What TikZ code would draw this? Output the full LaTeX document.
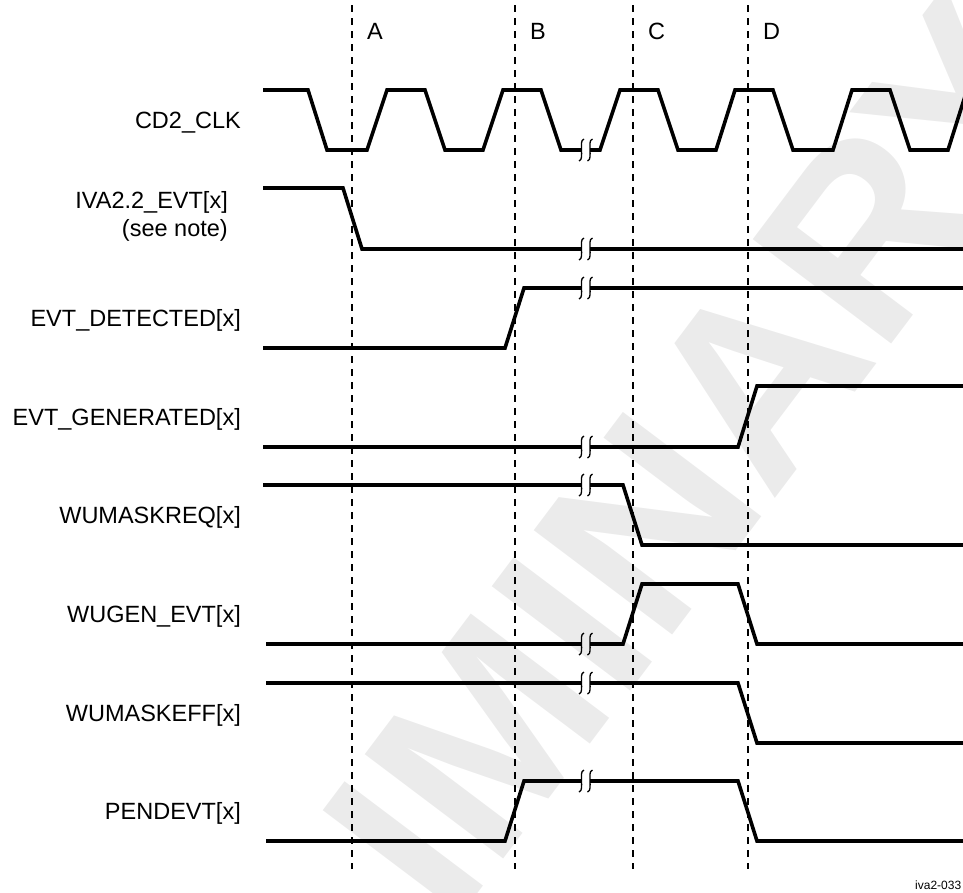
\documentclass[tikz,border=0pt]{standalone}
\usepackage{fontspec}
\setmainfont{Liberation Sans}
\definecolor{wmgray}{RGB}{235,235,235}
\newcommand{\brkmk}[1]{%
  \draw[brkline] (584,#1-11) .. controls (580.5,#1-10) and (581.5,#1-4) .. (581.5,#1) .. controls (581.5,#1+4) and (582.5,#1+10) .. (579,#1+11);
  \draw[brkline] (592.5,#1-11) .. controls (589,#1-10) and (590,#1-4) .. (590,#1) .. controls (590,#1+4) and (591,#1+10) .. (587.5,#1+11);
}
\begin{document}
\begin{tikzpicture}[x=1pt,y=-1pt,
  sig/.style={line width=3.6pt, line join=miter},
  gridline/.style={line width=1.2pt, dash pattern=on 7pt off 6pt},
  brkline/.style={line width=1.3pt},
  lbl/.style={font=\fontsize{23.5}{27}\selectfont, inner sep=0pt, anchor=base east},
  mlbl/.style={font=\fontsize{23.5}{27}\selectfont, inner sep=0pt, anchor=base west}]
\useasboundingbox (0,0) rectangle (963,892);
% watermark
\node[rotate=53, text=wmgray, font=\fontsize{252}{252}\selectfont\bfseries, inner sep=0pt] (wm) at (497.6,723.2) {PRELIMINARY};
% dashed marker lines
\foreach \nm/\xx in {A/352,B/515,C/633,D/748}{
  \coordinate (\nm top) at (\xx,5);
  \coordinate (\nm bot) at (\xx,869);
  \draw[gridline] (\nm top) -- (\nm bot);
}
\node[mlbl] (la) at (367,39) {A};
\node[mlbl] (lb) at (530,39) {B};
\node[mlbl] (lc) at (648,39) {C};
\node[mlbl] (ld) at (763,39) {D};
% labels
\node[lbl] (lclk) at (241,128.4) {CD2\_CLK};
\node[lbl] (liva) at (228,208.4) {IVA2.2\_EVT[x]};
\node[lbl] (lnote) at (228,236) {(see note)};
\node[lbl] (ldet) at (241,326.4) {EVT\_DETECTED[x]};
\node[lbl] (lgen) at (241,425) {EVT\_GENERATED[x]};
\node[lbl] (lreq) at (241,523.4) {WUMASKREQ[x]};
\node[lbl] (lwug) at (241,622.4) {WUGEN\_EVT[x]};
\node[lbl] (leff) at (241,721.4) {WUMASKEFF[x]};
\node[lbl] (lpen) at (241,819.8) {PENDEVT[x]};
% signals
\draw[sig] (263,90) -- (308,90) -- (327,150) -- (367,150) -- (387,90) -- (425,90) -- (445,150) -- (483,150) -- (503,90) -- (541,90) -- (561,150) -- (581.5,150);
\draw[sig] (590,150) -- (600,150) -- (620,90) -- (658,90) -- (678,150) -- (716,150) -- (735,90) -- (773,90) -- (793,150) -- (833,150) -- (852,90) -- (890,90) -- (910,150) -- (948,150) -- (967,90);
\brkmk{150}
\draw[sig] (263,188) -- (343,188) -- (362,249) -- (581.5,249);
\draw[sig] (590,249) -- (966,249);
\brkmk{249}
\draw[sig] (263,348) -- (505,348) -- (524,288) -- (581.5,288);
\draw[sig] (590,288) -- (966,288);
\brkmk{288}
\draw[sig] (263,447) -- (581.5,447);
\draw[sig] (590,447) -- (738,447) -- (757,386) -- (966,386);
\brkmk{447}
\draw[sig] (263,485) -- (581.5,485);
\draw[sig] (590,485) -- (623,485) -- (642,545) -- (966,545);
\brkmk{485}
\draw[sig] (266,644) -- (581.5,644);
\draw[sig] (590,644) -- (623,644) -- (642,584) -- (738,584) -- (757,644) -- (966,644);
\brkmk{644}
\draw[sig] (266,683) -- (581.5,683);
\draw[sig] (590,683) -- (738,683) -- (757,743) -- (966,743);
\brkmk{683}
\draw[sig] (266,841) -- (505,841) -- (524,781) -- (581.5,781);
\draw[sig] (590,781) -- (738,781) -- (757,841) -- (966,841);
\brkmk{781}
\node[anchor=base west, inner sep=0pt, font=\fontsize{12}{13}\selectfont] (fig) at (915,889) {iva2-033};
\end{tikzpicture}
\end{document}
